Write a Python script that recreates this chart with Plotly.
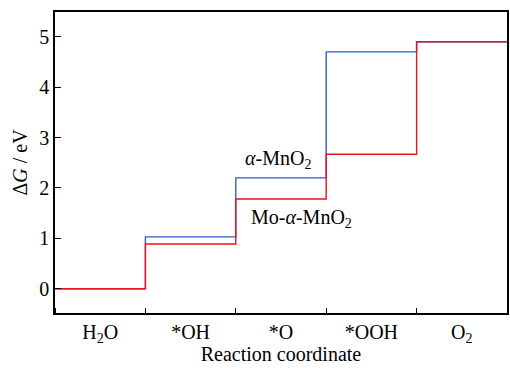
import plotly.graph_objects as go

steps = ["H<sub>2</sub>O", "*OH", "*O", "*OOH", "O<sub>2</sub>"]
alpha_mno2 = [0.0, 1.03, 2.20, 4.70, 4.90]
mo_alpha_mno2 = [0.0, 0.89, 1.78, 2.67, 4.90]

xs = list(range(len(steps) + 1))

def stepy(v):
    return v + [v[-1]]

FONT = "Liberation Serif"

fig = go.Figure()
fig.add_trace(go.Scatter(x=xs, y=stepy(alpha_mno2), mode="lines", line_shape="hv",
                         line=dict(color="#2f5fbf", width=1.4), name="α-MnO2"))
fig.add_trace(go.Scatter(x=xs, y=stepy(mo_alpha_mno2), mode="lines", line_shape="hv",
                         line=dict(color="#e8141c", width=1.4), name="Mo-α-MnO2"))

fig.add_annotation(x=2.47, y=2.57, text="<i>α</i>-MnO<sub>2</sub>", showarrow=False,
                   font=dict(size=20))
fig.add_annotation(x=2.73, y=1.39, text="Mo-<i>α</i>-MnO<sub>2</sub>", showarrow=False,
                   font=dict(size=20))

fig.update_layout(
    width=510, height=370,
    margin=dict(l=55, r=1, t=12, b=57),
    plot_bgcolor="white", paper_bgcolor="white",
    showlegend=False,
    font=dict(family=FONT, size=20, color="black"),
)
fig.update_xaxes(
    range=[0, 5], tickvals=[i + 0.5 for i in range(len(steps))], ticktext=steps,
    ticks="", showgrid=False, zeroline=False,
    tickfont=dict(size=20),
    showline=True, linecolor="black", linewidth=1.5, mirror=True,
    minor=dict(tick0=0, dtick=1, ticks="inside", ticklen=5, tickcolor="black", showgrid=False),
    title=dict(text="Reaction coordinate", standoff=2, font=dict(size=20)),
)
fig.update_yaxes(
    range=[-0.48, 5.49], tickvals=[0, 1, 2, 3, 4, 5],
    ticks="inside", ticklen=6, tickcolor="black", showgrid=False, zeroline=False,
    tickfont=dict(size=20),
    showline=True, linecolor="black", linewidth=1.5, mirror=True,
    title=dict(text="Δ<i>G</i> / eV", standoff=6, font=dict(size=20)),
)

fig.write_html("out.html")
